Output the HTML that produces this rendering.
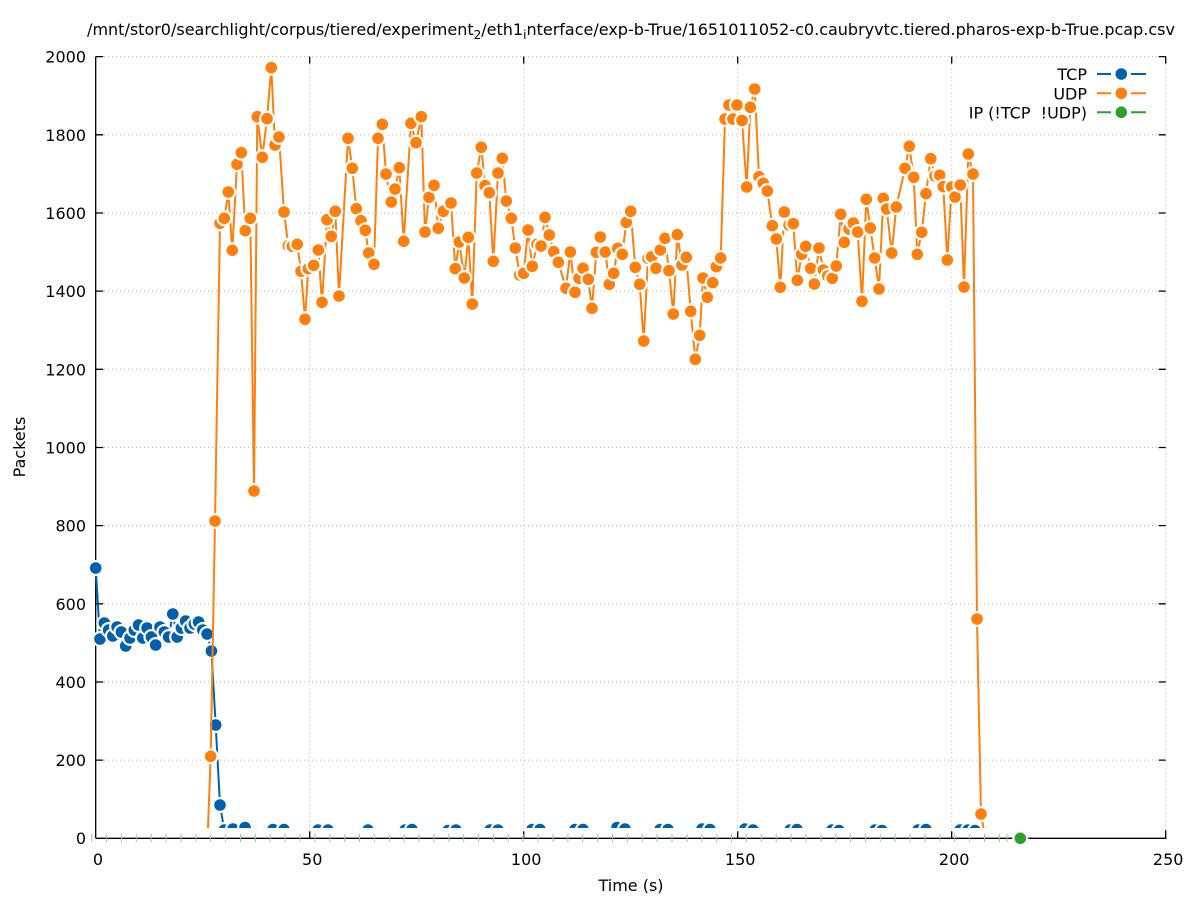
<!DOCTYPE html>
<html>
<head>
<meta charset="utf-8">
<style>
  html, body { margin: 0; padding: 0; background: #ffffff; }
  svg { display: block; }
  text { font-family: "DejaVu Sans", "Liberation Sans", sans-serif; fill: #000; }
</style>
</head>
<body>
<svg width="1197" height="900" viewBox="0 0 1197 900" xmlns="http://www.w3.org/2000/svg">
  <defs>
    <clipPath id="clipPlot">
      <rect x="0" y="0" width="1197" height="828"/>
    </clipPath>
    <marker id="mTcp" markerWidth="20" markerHeight="20" refX="10" refY="10" markerUnits="userSpaceOnUse" overflow="visible">
      <circle cx="10" cy="10" r="8" fill="#ffffff"/>
      <circle cx="10" cy="10" r="5.8" fill="#0060ad"/>
    </marker>
    <marker id="mUdp" markerWidth="20" markerHeight="20" refX="10" refY="10" markerUnits="userSpaceOnUse" overflow="visible">
      <circle cx="10" cy="10" r="8" fill="#ffffff"/>
      <circle cx="10" cy="10" r="5.8" fill="#ff7f0e"/>
    </marker>
  </defs>

  <rect x="0" y="0" width="1197" height="900" fill="#ffffff"/>

  <!-- Title -->
  <text x="631" y="35" font-size="16" text-anchor="middle">/mnt/stor0/searchlight/corpus/tiered/experiment<tspan font-size="12" dy="4">2</tspan><tspan dy="-4">/eth1</tspan><tspan font-size="12" dy="4">i</tspan><tspan dy="-4">nterface/exp-b-True/1651011052-c0.caubryvtc.tiered.pharos-exp-b-True.pcap.csv</tspan></text>

  <!-- Grid -->
  <g stroke="#b4b4b4" stroke-width="1" stroke-dasharray="1,3" fill="none">
    <line x1="96" y1="760.1" x2="1165.7" y2="760.1"/>
    <line x1="96" y1="682.0" x2="1165.7" y2="682.0"/>
    <line x1="96" y1="603.8" x2="1165.7" y2="603.8"/>
    <line x1="96" y1="525.6" x2="1165.7" y2="525.6"/>
    <line x1="96" y1="447.5" x2="1165.7" y2="447.5"/>
    <line x1="96" y1="369.3" x2="1165.7" y2="369.3"/>
    <line x1="96" y1="291.1" x2="1165.7" y2="291.1"/>
    <line x1="96" y1="213.0" x2="1165.7" y2="213.0"/>
    <line x1="96" y1="134.8" x2="1165.7" y2="134.8"/>
    <line x1="96" y1="56.6" x2="1165.7" y2="56.6"/>
    <line x1="309.7" y1="56.6" x2="309.7" y2="838"/>
    <line x1="523.7" y1="56.6" x2="523.7" y2="838"/>
    <line x1="737.7" y1="56.6" x2="737.7" y2="838"/>
    <line x1="951.7" y1="56.6" x2="951.7" y2="838"/>
    <line x1="1165.7" y1="56.6" x2="1165.7" y2="838"/>
  </g>

  <!-- Axes -->
  <g stroke="#000" stroke-width="1.3" fill="none">
    <line x1="95.7" y1="56.6" x2="95.7" y2="838.3"/>
    <line x1="95.7" y1="838.3" x2="1166.2" y2="838.3"/>
    <path d="M95.7 760.1h7.5M95.7 682.0h7.5M95.7 603.8h7.5M95.7 525.6h7.5M95.7 447.5h7.5M95.7 369.3h7.5M95.7 291.1h7.5M95.7 213.0h7.5M95.7 134.8h7.5M95.7 56.6h7.5"/>
    <path d="M1165.7 760.1h-7M1165.7 682.0h-7M1165.7 603.8h-7M1165.7 525.6h-7M1165.7 447.5h-7M1165.7 369.3h-7M1165.7 291.1h-7M1165.7 213.0h-7M1165.7 134.8h-7M1165.7 56.6h-7"/>
    <path d="M309.7 838.3v-7M523.7 838.3v-7M737.7 838.3v-7M951.7 838.3v-7M1165.7 838.3v-8"/>
    <path d="M309.7 56.6v7M523.7 56.6v7M737.7 56.6v7M951.7 56.6v7M1165.7 56.6v7"/>
  </g>

  <!-- Y tick labels -->
  <g font-size="16" text-anchor="end">
    <text x="86" y="844">0</text>
    <text x="86" y="766">200</text>
    <text x="86" y="688">400</text>
    <text x="86" y="610">600</text>
    <text x="86" y="531.6">800</text>
    <text x="86" y="453.5">1000</text>
    <text x="86" y="375.3">1200</text>
    <text x="86" y="297.1">1400</text>
    <text x="86" y="219">1600</text>
    <text x="86" y="140.8">1800</text>
    <text x="86" y="62.6">2000</text>
  </g>

  <!-- X tick labels -->
  <g font-size="16" text-anchor="middle">
    <text x="98" y="865">0</text>
    <text x="312.2" y="865">50</text>
    <text x="526.2" y="865">100</text>
    <text x="740.2" y="865">150</text>
    <text x="954.2" y="865">200</text>
    <text x="1168.2" y="865">250</text>
  </g>

  <!-- Axis labels -->
  <text x="631" y="891" font-size="16" text-anchor="middle">Time (s)</text>
  <text transform="translate(25,447) rotate(-90)" font-size="16" text-anchor="middle">Packets</text>

  <!-- TCP series -->
  <g clip-path="url(#clipPlot)">
    <polyline fill="none" stroke="#0060ad" stroke-width="2" stroke-linejoin="round"
      marker-start="url(#mTcp)" marker-mid="url(#mTcp)" marker-end="url(#mTcp)"
      points="95.7,568 100,639 104.3,623 108.6,630 112.8,636 117.1,627 121.4,632 125.7,646 130,638 134.3,630 138.6,625 142.8,638 147.1,628 151.4,637 155.7,645 160,627 164.3,632 168.6,637 172.8,614 177.1,637 181.4,628 185.7,621 190,628 194.3,624 198.6,622 202.8,630 207.1,634 211.4,651 215.7,725 220,805 224.3,830 228.6,836 233,829 237.5,836 241,836 245,827.5 249.5,836 268.5,836 273,829.5 278.5,836 284,829.5 288.5,836 313.5,836 318,830 323,836 328,830 332.5,836 363.5,836 368,830 372.5,836 400.5,836 405,830 412,829.5 416.5,836 443.5,836 448,830.5 456,830 460.5,836 485.5,836 490,830 498,830 502.5,836 527.5,836 532,829.5 540,829.5 544.5,836 570.5,836 575,829.5 583,829.5 587.5,836 612.5,836 617,827.5 625,829 629.5,836 655.5,836 660,829.5 668,829.5 672.5,836 697.5,836 702,829 710,829.5 714.5,836 740.5,836 745,829 753,830 757.5,836 785.5,836 790,830 797,829.5 801.5,836 827.5,836 832,830 839,830.5 843.5,836 870.5,836 875,830 882,830.5 886.5,836 913.5,836 918,830 926,829.5 930.5,836 955.5,836 960,830 968,830 975,830.5 979.5,836"/>
  </g>

  <!-- UDP series -->
  <g clip-path="url(#clipPlot)">
    <polyline fill="none" stroke="#ff7f0e" stroke-width="2" stroke-linejoin="round"
      marker-start="url(#mUdp)" marker-mid="url(#mUdp)" marker-end="url(#mUdp)"
      points="207.5,840 210.7,756.3 215,521 220,223.3 224.3,218.3 228.3,192 232.3,250.3 237,164.3 241.3,152.7 245.3,230.7 250.3,218.3 254,491 257.3,116.7 262.3,157.3 267,118.7 271.3,67.7 275,145 279,137 284,212 288.3,245.7 292.3,246.3 297.3,244.3 301,271.3 305,319.3 308.3,268.7 313.7,265.3 318.3,250 322,302.3 327,219.7 331.3,236.3 335.3,211.3 339,296 348,138.3 352.3,168.3 356.3,208.7 361,220.7 365.3,230.3 368.7,253 374,264.3 378,138.3 382.3,124.3 386,174 391.3,202 395,189 399.3,167.7 403.7,241.3 411,123.3 416,142.7 421.3,116.7 425,232 429,197.3 434,185.3 438.3,228.3 443.3,211.3 451,203 455.3,268.7 459.3,242 464.3,278 468.3,237.3 472.3,304 476.7,173 481.3,147.3 485,185.7 489.3,192.7 493.3,261.3 498,173 502.3,158.3 506.3,201 511.3,218.3 515.3,248 519.7,275 523.7,273.3 528,230 532.3,266.3 537,244.3 541,246 545,217.3 549.3,235 553.7,251.7 558.3,262.3 566,288.3 570.3,252 575,292.3 579,278.3 583,268.3 588.3,279.3 592,308.3 596.3,252.3 600.3,237 605.3,252 609.3,284.3 613.7,273.3 617.7,248.3 622.3,254.3 626.3,222.3 630.7,211.3 635.3,267.3 639.7,284.3 643.7,341 648,258.3 651.7,256.7 656,268.3 660.3,250 665,238.3 669,270.7 673.3,314 677.3,234.7 682,265 686.3,257.3 690.7,311.3 695.3,359.3 699.7,335.3 703,278 707.3,297.3 712.7,282.7 716.3,266.7 720.7,258 725,119 729,105 733,119 737,105 742,120.5 746.7,187 750.3,107.3 754.7,89 759,176.7 763.3,183.3 767.3,191 772.3,225.7 776.3,239 780.3,287.3 784.3,212 789,225 793.3,223.7 797.3,280.3 801.7,254.3 805.7,246.3 810.7,268.3 814.3,284 819,248 823.3,270 827.7,276 832.3,278.3 836.3,266 840.7,214.3 844.3,242.3 849,229 853.3,223 857.7,232 862,301.3 866.3,199.3 870.3,228 874.7,258 879,289 883.3,198.3 886.7,209 891.7,253 896.3,207 905,168.3 909.3,146.3 913.7,177.3 917.3,254.3 921.7,232.3 926,193.7 930.7,158.7 935,176 939.7,175.3 943.3,186.7 947.3,260 951.7,187 955,197 960.3,185 964,287 968.3,154 973,174 977,619 981,814 985.5,840"/>
  </g>

  <!-- IP (!TCP !UDP) series -->
  <path fill="none" stroke="#8fd08f" stroke-width="1"
    d="M91.7 834v8M106.6 834v8M121.5 834v8M136.3 834v8M151.2 834v8M166.1 834v8M181 834v8M195.9 834v8M210.7 834v8M225.6 834v8M240.5 834v8M255.4 834v8M270.3 834v8M285.1 834v8M300 834v8M314.9 834v8M329.8 834v8M344.7 834v8M359.5 834v8M374.4 834v8M389.3 834v8M404.2 834v8M419.1 834v8M433.9 834v8M448.8 834v8M463.7 834v8M478.6 834v8M493.5 834v8M508.3 834v8M523.2 834v8M538.1 834v8M553 834v8M567.9 834v8M582.7 834v8M597.6 834v8M612.5 834v8M627.4 834v8M642.3 834v8M657.1 834v8M672 834v8M686.9 834v8M701.8 834v8M716.7 834v8M731.5 834v8M746.4 834v8M761.3 834v8M776.2 834v8M791.1 834v8M805.9 834v8M820.8 834v8M835.7 834v8M850.6 834v8M865.5 834v8M880.3 834v8M895.2 834v8M910.1 834v8M925 834v8M939.9 834v8M954.7 834v8M969.6 834v8M984.5 834v8M999.4 834v8M1007 834v8"/>
  <circle cx="1020.3" cy="838.3" r="8" fill="#ffffff"/>
  <circle cx="1020.3" cy="838.3" r="5.8" fill="#2ca02c"/>

  <!-- Legend -->
  <g font-size="16" text-anchor="end">
    <text x="1087" y="80">TCP</text>
    <text x="1087" y="99.3">UDP</text>
    <text x="1087" y="118.3" xml:space="preserve">IP (!TCP&#160;&#160;!UDP)</text>
  </g>
  <g stroke-width="2">
    <path d="M1097 74h14M1131 74h15" stroke="#0060ad"/>
    <path d="M1097 93.3h14M1131 93.3h15" stroke="#ff7f0e"/>
    <path d="M1097 112.3h14M1131 112.3h15" stroke="#2ca02c"/>
  </g>
  <circle cx="1121.3" cy="74" r="5.8" fill="#0060ad"/>
  <circle cx="1121.3" cy="93.3" r="5.8" fill="#ff7f0e"/>
  <circle cx="1121.3" cy="112.3" r="5.8" fill="#2ca02c"/>
</svg>
</body>
</html>
